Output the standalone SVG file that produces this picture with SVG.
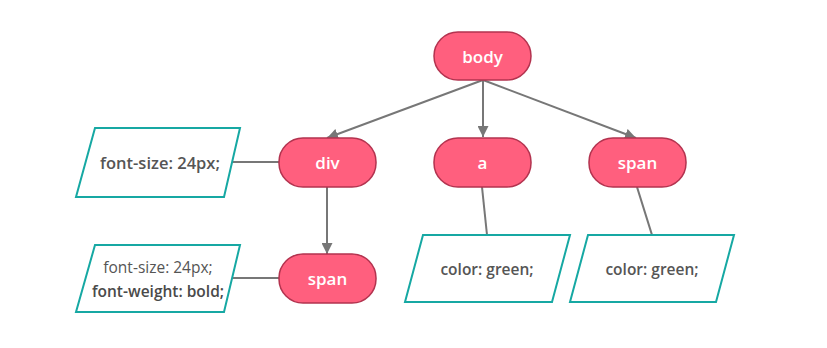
<svg xmlns="http://www.w3.org/2000/svg" width="827" height="348" viewBox="0 0 827 348">
<style>
.node rect{fill:#ff5f7e;stroke:#b3334f;stroke-width:1.5}
.node text{fill:#ffffff;font-family:"Open Sans","Noto Sans",sans-serif;font-size:17px;font-weight:600;text-anchor:middle;dominant-baseline:central}
.attr polygon{fill:#ffffff;stroke:#16a8a3;stroke-width:2}
.attr text{fill:#555555;font-family:"Open Sans","Noto Sans",sans-serif;font-size:15.5px;text-anchor:middle;dominant-baseline:central}
.attr text.m{font-weight:600}
.attr text.b{font-weight:600;fill:#4a4a4a}
.conn line{stroke:#777777;stroke-width:2;fill:none}
</style>
<defs>
<marker id="ah" viewBox="0 0 10 10" refX="10" refY="5" markerWidth="5.5" markerHeight="5.5" orient="auto" markerUnits="strokeWidth">
<path d="M0,0 L10,5 L0,10 z" fill="#777777"/>
</marker>
</defs>
<rect width="827" height="348" fill="#ffffff"/>
<g id="connectors" class="conn">
<line x1="483" y1="80" x2="327" y2="138" marker-end="url(#ah)"/>
<line x1="483" y1="80" x2="483" y2="137" marker-end="url(#ah)"/>
<line x1="483" y1="80" x2="636" y2="138" marker-end="url(#ah)"/>
<line x1="327" y1="187" x2="327" y2="254" marker-end="url(#ah)"/>
<line x1="232" y1="162" x2="279" y2="162"/>
<line x1="232" y1="278" x2="279" y2="278"/>
<line x1="482" y1="187" x2="487" y2="235"/>
<line x1="637" y1="187" x2="652" y2="235"/>
</g>
<g id="body" class="node"><rect x="434" y="32" width="97" height="48" rx="24"/><text x="482.5" y="56">body</text></g>
<g id="div" class="node"><rect x="279" y="138" width="97" height="49" rx="24"/><text x="327.5" y="162">div</text></g>
<g id="a" class="node"><rect x="434" y="138" width="97" height="49" rx="24"/><text x="482.5" y="162">a</text></g>
<g id="span1" class="node"><rect x="589" y="138" width="97" height="49" rx="24"/><text x="637.5" y="162">span</text></g>
<g id="span2" class="node"><rect x="279" y="254" width="97" height="49" rx="24"/><text x="327.5" y="278">span</text></g>
<g id="attr-div" class="attr"><polygon points="95,128 240,128 224,197 76,197"/><text class="m" x="160" y="162" style="font-size:16.5px">font-size: 24px;</text></g>
<g id="attr-span2" class="attr"><polygon points="95,245 240,245 224,312 76,312"/><text x="158" y="267">font-size: 24px;</text><text class="b" x="158" y="291">font-weight: bold;</text></g>
<g id="attr-a" class="attr"><polygon points="423,235 570,235 552,302 405,302"/><text class="m" x="487" y="269">color: green;</text></g>
<g id="attr-span1" class="attr"><polygon points="588,235 734,235 716,302 570,302"/><text class="m" x="652" y="269">color: green;</text></g>
</svg>
